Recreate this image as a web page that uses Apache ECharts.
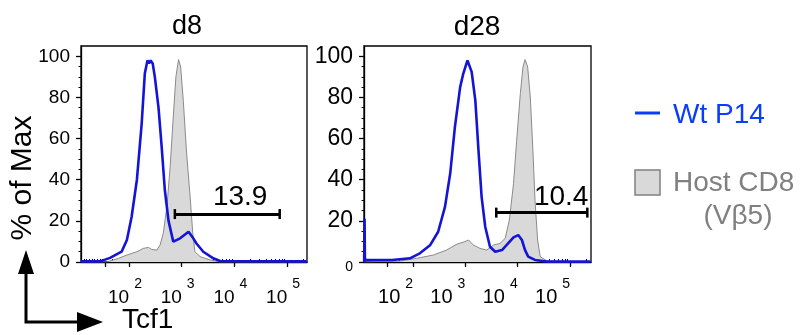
<!DOCTYPE html>
<html>
<head>
<meta charset="utf-8">
<script src="https://cdn.jsdelivr.net/npm/echarts@6/dist/echarts.min.js"></script>
<style>
  html, body { margin: 0; padding: 0; background: #fff; }
  #chart { width: 808px; height: 335px; }
</style>
</head>
<body>
<div id="chart"></div>
<script>
// x values are in decades (log10 of Tcf1 fluorescence), y is % of Max
const panelTitles = ['d8', 'd28'];
const seriesNames = ['Wt P14', 'Host CD8', '(Vβ5)'];
const yTicks = [0, 20, 40, 60, 80, 100];
const yMinorTicks = [5, 10, 15, 25, 30, 35, 45, 50, 55, 65, 70, 75, 85, 90, 95];
const xDecades = [2, 3, 4, 5];

// d8 panel
const hostD8X = [1.09, 1.58, 1.80, 1.96, 2.15, 2.27, 2.37, 2.43, 2.53, 2.59, 2.65, 2.72, 2.78, 2.84, 2.89, 2.94, 2.98, 3.03, 3.09, 3.16, 3.21, 3.25, 3.35, 3.54, 3.73, 5.37];
const hostD8Y = [0, 0, 1.8, 3.4, 5, 6.6, 7.1, 6.1, 5.8, 8.3, 13.9, 27, 46, 70.5, 90, 98.4, 94.8, 78.6, 54, 31.7, 14, 5, 2.6, 1, 0, 0];
const wtD8X = [1.09, 1.45, 1.64, 1.86, 1.96, 2.05, 2.15, 2.24, 2.30, 2.35, 2.38, 2.41, 2.45, 2.49, 2.56, 2.62, 2.68, 2.75, 2.84, 2.97, 3.13, 3.22, 3.28, 3.41, 3.60, 3.73, 5.37];
const wtD8Y = [0.3, 0.3, 2, 5, 10.7, 22, 40, 67, 91.6, 98, 96.5, 98, 96.5, 90, 75, 56, 35, 20, 9.9, 11.5, 14.7, 11.5, 9, 5, 1.8, 0.5, 0.3];
const gateD8 = [2.87, 4.86, 23.3];      // from, to, height
const gateLabelD8 = ['13.9', 4.11, 31.5];

// d28 panel
const hostD28X = [1.07, 1.75, 2.07, 2.39, 2.64, 2.84, 2.99, 3.06, 3.15, 3.28, 3.41, 3.54, 3.66, 3.76, 3.84, 3.92, 3.98, 4.05, 4.10, 4.14, 4.19, 4.24, 4.29, 4.33, 4.38, 4.43, 4.56, 5.39];
const hostD28Y = [0, 0.5, 1.8, 3.4, 5.8, 8.7, 9.9, 10.7, 8.3, 6.6, 5.8, 8.3, 9, 11.5, 20.4, 38.2, 59.2, 81.9, 94.8, 98.4, 94.8, 80.2, 54.4, 30, 10.7, 2.6, 0.5, 0];
const wtD28X = [1.066, 1.074, 1.08, 1.09, 1.3, 1.6, 1.94, 2.13, 2.33, 2.48, 2.61, 2.71, 2.80, 2.90, 2.96, 3.04, 3.12, 3.19, 3.25, 3.31, 3.38, 3.47, 3.57, 3.70, 3.79, 3.92, 4.01, 4.08, 4.14, 4.20, 4.33, 4.56, 5.39];
const wtD28Y = [0, 21, 2, 1, 1, 1, 1.8, 4.2, 8.3, 14.7, 26.8, 43, 65.7, 85, 91.6, 98, 92.4, 78.6, 54.4, 31.7, 17, 7.4, 5, 5.8, 8.3, 12, 13.1, 10.7, 5.8, 2.6, 1, 0.2, 0.2];
const gateD28 = [3.59, 5.33, 24];
const gateLabelD28 = ['10.4', 4.83, 31.5];

const FONT = '"Liberation Sans", Arial, Helvetica, sans-serif';
const BLUE = '#1414d8';
const zip = (xs, ys) => xs.map((x, i) => [x, ys[i]]);

// biexponential-style minor ticks: 10^1 sits at `ten`, linear-ish below it
function minorTicksFor(ten) {
    const t = [];
    for (let k = 2; k <= 9; k++) t.push(ten - (10 - k) * 0.05);
    for (let k = 2; k <= 9; k++) t.push(ten + (2 - ten) * Math.log10(k));
    for (let d = 2; d <= 4; d++) for (let k = 2; k <= 9; k++) t.push(d + Math.log10(k));
    t.push(5 + Math.log10(2));
    return t;
}

const panels = [
    { left: 81, width: 226, xMin: 1.089, xMax: 5.378, ten: 1.545, yFont: 19, zeroFont: 19, xFont: 19,
      xAlign: 'center', xPad: [0, 8, 0, 0],
      host: zip(hostD8X, hostD8Y), wt: zip(wtD8X, wtD8Y), gate: gateD8, gateLabel: gateLabelD8 },
    { left: 364, width: 227, xMin: 1.063, xMax: 5.40, ten: 1.503, yFont: 23, zeroFont: 14, xFont: 20,
      xAlign: 'right', xPad: [0, 0, 0, 0],
      host: zip(hostD28X, hostD28Y), wt: zip(wtD28X, wtD28Y), gate: gateD28, gateLabel: gateLabelD28 }
];

const grid = [], xAxis = [], yAxis = [], series = [];
const axisLineStyle = { color: '#000', width: 1.3 };

panels.forEach((p, i) => {
    grid.push({ left: p.left, top: 46, width: p.width, height: 216, show: true,
        borderColor: '#000', borderWidth: 1.3, backgroundColor: 'transparent' });

    // main x axis: majors + labels
    xAxis.push({
        type: 'value', gridIndex: i, min: p.xMin, max: p.xMax,
        splitLine: { show: false },
        axisLine: { lineStyle: axisLineStyle },
        axisTick: { customValues: [p.ten].concat(xDecades), length: 5, lineStyle: axisLineStyle },
        axisLabel: {
            customValues: xDecades, align: p.xAlign, padding: p.xPad, margin: 15,
            formatter: v => '{b|10}{s|' + Math.round(v) + '}',
            rich: {
                b: { fontSize: p.xFont, fontFamily: FONT, color: '#000', lineHeight: 30, verticalAlign: 'bottom' },
                s: { fontSize: 14, fontFamily: FONT, color: '#000', lineHeight: 14, verticalAlign: 'top', padding: [0, 0, 0, 5] }
            }
        }
    });
    // minor x ticks
    xAxis.push({
        type: 'value', gridIndex: i, min: p.xMin, max: p.xMax,
        splitLine: { show: false }, axisLine: { show: false }, axisLabel: { show: false },
        axisTick: { customValues: minorTicksFor(p.ten), length: 3, lineStyle: { color: '#000', width: 1 } }
    });

    yAxis.push({
        type: 'value', gridIndex: i, min: 0, max: 105, position: 'left',
        splitLine: { show: false },
        axisLine: { show: true, lineStyle: axisLineStyle },
        axisTick: { customValues: yTicks, length: 5, lineStyle: axisLineStyle },
        axisLabel: {
            customValues: yTicks, margin: 11,
            formatter: v => v === 0 ? '{z|0}' : '{n|' + v + '}',
            rich: {
                n: { fontSize: p.yFont, fontFamily: FONT, color: '#000' },
                z: { fontSize: p.zeroFont, fontFamily: FONT, color: '#000', padding: [p.zeroFont < 19 ? 10 : 0, 0, 0, 0] }
            }
        }
    });
    yAxis.push({
        type: 'value', gridIndex: i, min: 0, max: 105, position: 'left',
        splitLine: { show: false }, axisLine: { show: false }, axisLabel: { show: false },
        axisTick: { customValues: yMinorTicks, length: 2.5, lineStyle: { color: '#000', width: 1 } }
    });

    const xi = i * 2, yi = i * 2;
    series.push({
        name: seriesNames[1], type: 'line', xAxisIndex: xi, yAxisIndex: yi,
        data: p.host, showSymbol: false, z: 2,
        lineStyle: { color: '#8a8a8a', width: 1 },
        areaStyle: { color: '#d9d9d9', opacity: 1 }
    });
    series.push({
        name: seriesNames[0], type: 'line', xAxisIndex: xi, yAxisIndex: yi,
        data: p.wt, showSymbol: false, z: 3,
        lineStyle: { color: BLUE, width: 2.6 },
        markLine: {
            silent: true, symbol: ['rect', 'rect'], symbolSize: [10, 2.5],
            label: { show: false },
            lineStyle: { color: '#000', width: 3, type: 'solid' },
            data: [[{ coord: [p.gate[0], p.gate[2]] }, { coord: [p.gate[1], p.gate[2]] }]]
        },
        markPoint: {
            silent: true, symbol: 'circle', symbolSize: 1,
            itemStyle: { color: 'transparent' },
            label: { show: true, position: 'inside', formatter: p.gateLabel[0],
                fontSize: 28, fontFamily: FONT, color: '#000' },
            data: [{ coord: [p.gateLabel[1], p.gateLabel[2]] }]
        }
    });
});

const txt = (text, x, y, size, color, align, extra) => Object.assign({
    type: 'text', x, y,
    style: { text, font: size + 'px ' + FONT, fill: color, align: align || 'left', verticalAlign: 'middle' }
}, extra || {});

const graphic = [
    txt(panelTitles[0], 187, 27, 27, '#000', 'center'),
    txt(panelTitles[1], 477, 27, 28, '#000', 'center'),
    txt('% of Max', 23, 178, 30, '#000', 'center', { rotation: Math.PI / 2 }),
    txt('Tcf1', 122, 320, 28, '#000', 'left'),
    { type: 'polyline', shape: { points: [[26, 272], [26, 322], [79, 322]] },
      style: { stroke: '#000', lineWidth: 3, fill: null } },
    { type: 'polygon', shape: { points: [[26, 250], [18, 274], [34, 274]] }, style: { fill: '#000' } },
    { type: 'polygon', shape: { points: [[103, 322], [77, 312], [77, 332]] }, style: { fill: '#000' } },
    // legend
    { type: 'line', shape: { x1: 635, y1: 113, x2: 660, y2: 113 }, style: { stroke: '#0a3cff', lineWidth: 3 } },
    txt(seriesNames[0], 673, 115, 28, '#0a3cff', 'left'),
    { type: 'rect', shape: { x: 635, y: 170, width: 25, height: 25 },
      style: { fill: '#d9d9d9', stroke: '#808080', lineWidth: 1.5 } },
    txt(seriesNames[1], 673, 183, 28, '#808080', 'left'),
    txt(seriesNames[2], 738, 216, 28, '#808080', 'center')
];

const chart = echarts.init(document.getElementById('chart'), null, { renderer: 'canvas' });
chart.setOption({
    animation: false,
    backgroundColor: '#fff',
    grid, xAxis, yAxis, series, graphic
});
</script>
</body>
</html>
